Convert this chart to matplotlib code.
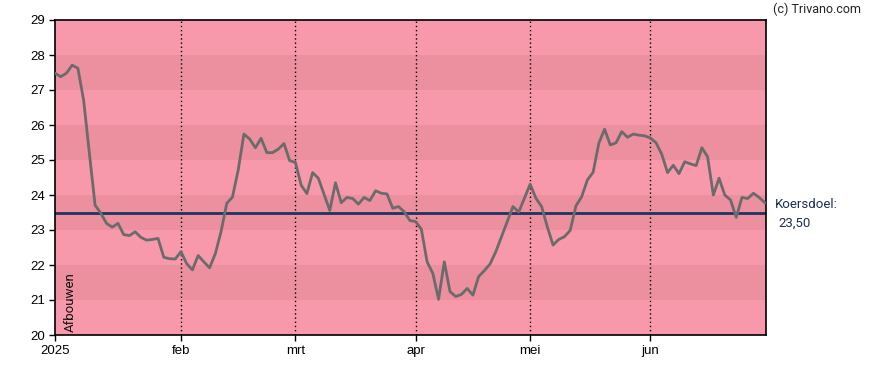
"""
Koersverloop 2025 met koersdoel (Trivano-stijl grafiek).
"""

import matplotlib.pyplot as plt

# slotkoersen per handelsdag, 2 jan t/m 30 jun 2025
koers = [
    27.48, 27.38, 27.48, 27.71, 27.62, 26.71, 25.20, 23.71, 23.48, 23.19,
    23.08, 23.19, 22.87, 22.84, 22.95, 22.79, 22.71, 22.73, 22.76, 22.22,
    22.18, 22.17, 22.38, 22.04, 21.86, 22.27, 22.09, 21.92, 22.32, 22.95,
    23.76, 23.94, 24.71, 25.74, 25.60, 25.35, 25.62, 25.21, 25.21, 25.31,
    25.47, 24.98, 24.93, 24.28, 24.04, 24.64, 24.48, 24.02, 23.56, 24.35,
    23.78, 23.93, 23.90, 23.74, 23.93, 23.84, 24.12, 24.05, 24.03, 23.62,
    23.67, 23.52, 23.27, 23.24, 23.02, 22.09, 21.76, 21.02, 22.09, 21.24,
    21.10, 21.16, 21.33, 21.14, 21.67, 21.84, 22.03, 22.38, 22.81, 23.24,
    23.67, 23.51, 23.91, 24.31, 23.91, 23.67, 23.09, 22.57, 22.73, 22.81,
    22.99, 23.69, 23.95, 24.43, 24.65, 25.48, 25.88, 25.43, 25.49, 25.81,
    25.65, 25.74, 25.71, 25.69, 25.63, 25.49, 25.16, 24.64, 24.85, 24.61,
    24.95, 24.89, 24.84, 25.35, 25.09, 24.00, 24.48, 24.00, 23.86, 23.36,
    23.93, 23.90, 24.05, 23.93, 23.78,
]

koersdoel = 23.50
advies = "Afbouwen"

# eerste handelsdag van elke maand (index in koers)
maand_start = [0, 22, 42, 63, 83, 104]
maand_labels = ["2025", "feb", "mrt", "apr", "mei", "jun"]

y_ticks = list(range(20, 30))
donkere_banden = [(21, 22), (23, 24), (25, 26), (27, 28)]

plt.rcParams["font.family"] = ["Liberation Sans", "DejaVu Sans"]

fig = plt.figure(figsize=(8.88, 3.70), dpi=100)
ax = fig.add_axes([55 / 888, 35 / 370, 711 / 888, 315 / 370])

ax.set_facecolor("#F799AA")
for lo, hi in donkere_banden:
    ax.axhspan(lo, hi, color="#EC8F9F", lw=0, zorder=0)

for x in maand_start[1:]:
    ax.axvline(x, color="black", lw=1, linestyle=(0, (1, 2)), zorder=1)

ax.axhline(koersdoel, color="#1d3560", lw=2, zorder=2)

ax.plot(range(len(koers)), koers, color="#6b6b6b", lw=2, zorder=3)

ax.set_xlim(0, 124.2)
ax.set_ylim(20, 29)
ax.set_yticks(y_ticks)
ax.set_xticks(maand_start)
ax.set_xticklabels(maand_labels)
ax.tick_params(direction="out", length=4, width=1, labelsize=9.5,
               colors="black", pad=3)

for spine in ax.spines.values():
    spine.set_linewidth(1.2)
    spine.set_color("black")

ax.text(0.012, 0.01, advies, transform=ax.transAxes, rotation=90,
        ha="left", va="bottom", fontsize=9.5, color="#111111",
        family=["Roboto", "DejaVu Sans"])

fig.text(775 / 888, 1 - 205 / 370, "Koersdoel:", fontsize=9.5,
         color="#1a2f55", va="center", ha="left",
         family=["Roboto", "DejaVu Sans"])
fig.text(778 / 888, 1 - 223 / 370, "23,50", fontsize=9.5,
         color="#1a2f55", va="center", ha="left",
         family=["Roboto", "DejaVu Sans"])
fig.text(773 / 888, 1 - 9 / 370, "(c) Trivano.com", fontsize=9,
         color="#222222", va="center", ha="left",
         family=["Roboto", "DejaVu Sans"])

fig.savefig("out.png", dpi=100)
plt.close(fig)
